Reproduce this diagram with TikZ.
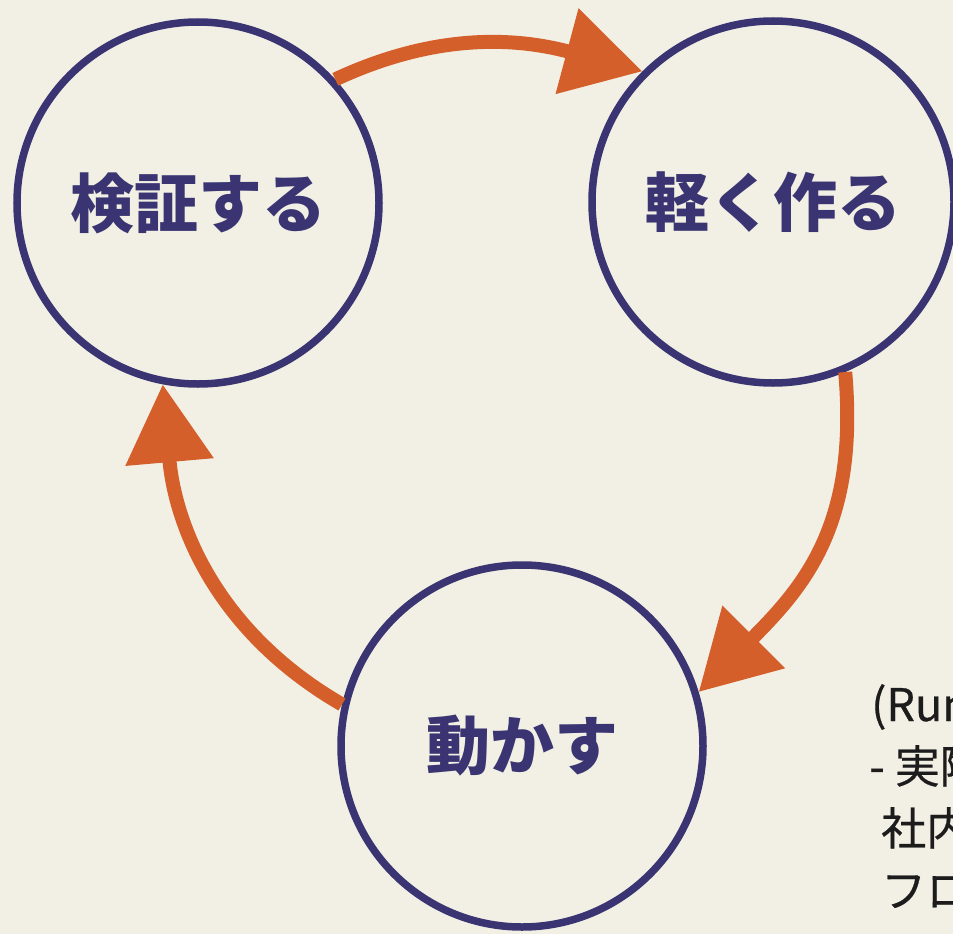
\documentclass[tikz,border=0pt]{standalone}
\usepackage{fontspec}
\newfontfamily\jp{Noto Sans CJK JP}
\newfontfamily\jpmed[FakeBold=0.5]{Noto Sans CJK JP}
\usetikzlibrary{arrows.meta}
\definecolor{bg}{HTML}{F2F0E4}
\definecolor{navy}{HTML}{3A3572}
\definecolor{org}{HTML}{D45F2A}
\definecolor{ink}{HTML}{1C1C1C}
\begin{document}
\begin{tikzpicture}[x=1pt,y=-1pt,
  stage/.style={circle, draw=navy, line width=7.5pt, minimum size=362pt, inner sep=0pt,
    font=\jp\bfseries\fontsize{64}{72}\selectfont, text=navy},
  flow/.style={org, line width=14pt, -{Triangle[length=78pt,width=85pt]}},
  notetext/.style={anchor=base west, inner sep=0pt, text=ink, font=\jpmed\fontsize{45}{52}\selectfont}]
\useasboundingbox (0,0) rectangle (953,934);
\fill[bg] (0,0) rectangle (953,934);
\clip (0,0) rectangle (953,934);
\node[stage] (ken) at (198,203) {検証する};
\node[stage] (kar) at (773,202) {軽く作る};
\node[stage] (ugo) at (522,746) {動かす};
\draw[flow] (ken.42) to[out=25,in=165] (kar.135);
\draw[flow] (kar.-67) to[out=-85,in=45,looseness=1.1] (ugo.17);
\draw[flow] (ugo.167) to[out=150,in=-85] (ken.-101);
\node[notetext] (n1) at (871,721) {(Run};
\node[notetext] (n2) at (869,783) {- 実際};
\node[notetext] (n3) at (881,845) {社内};
\node[notetext] (n4) at (881,907) {フロ};
\end{tikzpicture}
\end{document}
